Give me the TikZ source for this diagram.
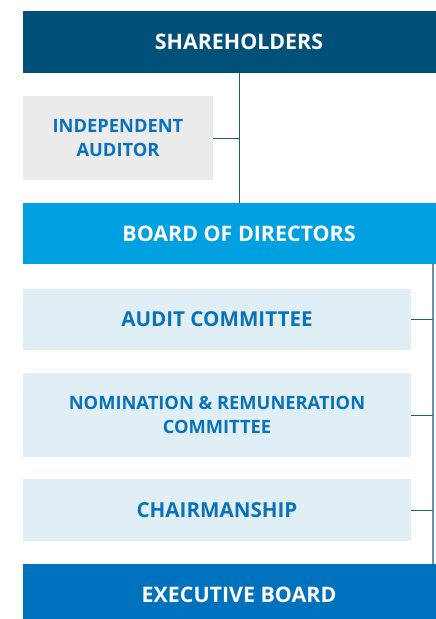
\documentclass[tikz,border=0pt]{standalone}
\usepackage{fontspec}
\setmainfont{Open Sans}
\definecolor{darkblue}{HTML}{00507A}
\definecolor{skyblue}{HTML}{00A0E1}
\definecolor{midblue}{HTML}{0071BC}
\definecolor{lightgray}{HTML}{EBEBEB}
\definecolor{paleblue}{HTML}{DFEFF5}
\definecolor{textblue}{HTML}{0B72B9}
\definecolor{linecol}{HTML}{1F5C80}
\definecolor{buscol}{HTML}{6A8FA8}
\tikzset{
  mainbox/.style={rectangle, minimum width=432pt, text=white, font=\fontsize{21.4}{24}\selectfont\bfseries, inner sep=0pt},
  subbox/.style={rectangle, fill=paleblue, minimum width=388pt, text=textblue, align=center, font=\fontsize{20.6}{24}\selectfont\bfseries, inner sep=0pt},
  twoline/.style={font=\fontsize{18.3}{24}\selectfont\bfseries},
  link/.style={draw=linecol, line width=0.9pt}
}
\begin{document}
\begin{tikzpicture}[x=1pt, y=1pt]
    \useasboundingbox (0,0) rectangle (436,619);
    \node[mainbox, fill=darkblue, minimum height=62pt] (sh) at (239,577) {SHAREHOLDERS};
    \node[subbox, twoline, fill=lightgray, minimum width=190pt, minimum height=84pt] (ia) at (118,481) {INDEPENDENT\\AUDITOR};
    \node[mainbox, fill=skyblue, minimum height=61pt] (bd) at (239,385.5) {BOARD OF DIRECTORS};
    \node[subbox, minimum height=61pt] (ac) at (217,299.5) {AUDIT COMMITTEE};
    \node[subbox, twoline, minimum height=84pt] (nr) at (217,204) {NOMINATION \& REMUNERATION\\COMMITTEE};
    \node[subbox, minimum height=62pt] (ch) at (217,109) {CHAIRMANSHIP};
    \node[mainbox, fill=midblue, minimum height=62pt] (eb) at (239,24) {EXECUTIVE BOARD};
    \coordinate (bustop) at (433,355);
    \coordinate (busbot) at (433,55);
    \draw[link] (sh.south) -- (bd.north);
    \draw[link] (ia.east) -- (ia.east -| sh.south);
    \draw[draw=buscol, line width=1.2pt] (bustop) -- (busbot);
    \draw[link] (ac.east) -- (ac.east -| bustop);
    \draw[link] (nr.east) -- (nr.east -| bustop);
    \draw[link] (ch.east) -- (ch.east -| bustop);
\end{tikzpicture}
\end{document}
